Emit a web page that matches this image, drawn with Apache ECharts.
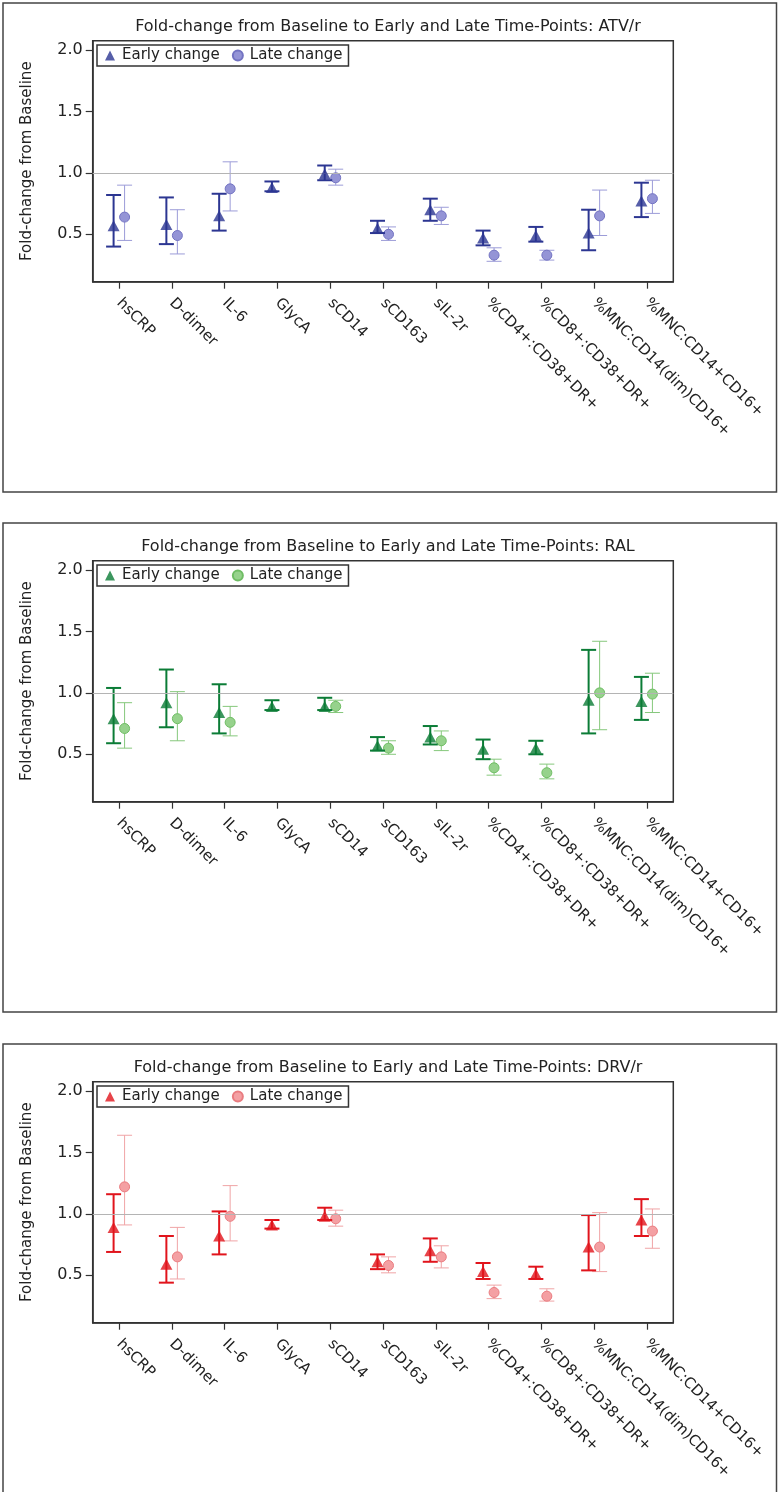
<!DOCTYPE html>
<html><head><meta charset="utf-8">
<script src="https://cdn.jsdelivr.net/npm/echarts@6/dist/echarts.min.js"></script>
<style>
html,body{margin:0;padding:0;background:#fff;overflow:hidden;width:780px;height:1492px;}
.p{position:absolute;left:0;width:780px;}
</style></head>
<body>
<div id="c1" class="p" style="top:0;height:520px"></div>
<div id="c2" class="p" style="top:520px;height:520px"></div>
<div id="c3" class="p" style="top:1041px;height:451px"></div>
<script>
const categories = ['hsCRP','D-dimer','IL-6','GlycA','sCD14','sCD163','sIL-2r','%CD4+:CD38+DR+','%CD8+:CD38+DR+','%MNC:CD14(dim)CD16+','%MNC:CD14+CD16+'];
const yTicks = [0.5, 1.0, 1.5, 2.0];

// ATV/r
const atvEarly   = [0.57, 0.58, 0.65, 0.88, 0.99, 0.55, 0.70, 0.47, 0.49, 0.51, 0.77];
const atvEarlyLo = [0.40, 0.42, 0.53, 0.85, 0.94, 0.51, 0.61, 0.41, 0.44, 0.37, 0.64];
const atvEarlyHi = [0.82, 0.80, 0.83, 0.93, 1.06, 0.61, 0.79, 0.53, 0.56, 0.70, 0.92];
const atvLate    = [0.64, 0.49, 0.87, null, 0.96, 0.50, 0.65, 0.33, 0.33, 0.65, 0.79];
const atvLateLo  = [0.45, 0.34, 0.69, null, 0.90, 0.45, 0.58, 0.28, 0.29, 0.49, 0.67];
const atvLateHi  = [0.90, 0.70, 1.09, null, 1.03, 0.56, 0.72, 0.39, 0.37, 0.86, 0.94];

// RAL
const ralEarly   = [0.79, 0.92, 0.84, 0.89, 0.89, 0.57, 0.64, 0.54, 0.55, 0.94, 0.93];
const ralEarlyLo = [0.59, 0.72, 0.67, 0.86, 0.86, 0.53, 0.58, 0.46, 0.50, 0.67, 0.78];
const ralEarlyHi = [1.04, 1.19, 1.07, 0.94, 0.96, 0.64, 0.73, 0.62, 0.61, 1.35, 1.13];
const ralLate    = [0.71, 0.79, 0.76, null, 0.89, 0.55, 0.61, 0.39, 0.35, 1.00, 0.99];
const ralLateLo  = [0.55, 0.61, 0.65, null, 0.84, 0.50, 0.53, 0.33, 0.30, 0.70, 0.84];
const ralLateHi  = [0.92, 1.01, 0.89, null, 0.94, 0.61, 0.69, 0.46, 0.42, 1.42, 1.16];

// DRV/r
const drvEarly   = [0.89, 0.59, 0.82, 0.91, 0.98, 0.61, 0.70, 0.53, 0.51, 0.73, 0.95];
const drvEarlyLo = [0.69, 0.44, 0.67, 0.88, 0.95, 0.55, 0.61, 0.47, 0.47, 0.54, 0.82];
const drvEarlyHi = [1.16, 0.82, 1.02, 0.95, 1.05, 0.67, 0.80, 0.60, 0.57, 0.99, 1.12];
const drvLate    = [1.22, 0.65, 0.98, null, 0.96, 0.58, 0.65, 0.36, 0.33, 0.73, 0.86];
const drvLateLo  = [0.91, 0.47, 0.78, null, 0.90, 0.52, 0.56, 0.31, 0.29, 0.53, 0.72];
const drvLateHi  = [1.64, 0.89, 1.23, null, 1.03, 0.65, 0.74, 0.42, 0.39, 1.01, 1.04];

const FONT = 'DejaVu Sans';
const TXT = '#222';

function errRender(offset, width, color) {
  return function (params, api) {
    const lo = api.value(1), hi = api.value(2);
    if (lo == null || isNaN(lo)) return null;
    const pLo = api.coord([api.value(0), lo]);
    const pHi = api.coord([api.value(0), hi]);
    const cx = pLo[0] + offset, hw = 7.5;
    const st = { stroke: color, lineWidth: width };
    return { type: 'group', children: [
      { type: 'line', shape: { x1: cx, y1: pHi[1], x2: cx, y2: pLo[1] }, style: st },
      { type: 'line', shape: { x1: cx - hw, y1: pHi[1], x2: cx + hw, y2: pHi[1] }, style: st },
      { type: 'line', shape: { x1: cx - hw, y1: pLo[1], x2: cx + hw, y2: pLo[1] }, style: st }
    ]};
  };
}

function buildOption(title, early, eLo, eHi, late, lLo, lHi, col) {
  const eData = categories.map((c, i) => [i, eLo[i], eHi[i]]);
  const lData = categories.map((c, i) => [i, lLo[i] == null ? NaN : lLo[i], lHi[i] == null ? NaN : lHi[i]]);
  return {
    animation: false,
    textStyle: { fontFamily: FONT },
    graphic: [{ type: 'rect', shape: { x: 3, y: 3, width: 773.5, height: 489 }, style: { fill: 'none', stroke: '#444', lineWidth: 1.5 }, silent: true }],
    title: { text: title, left: 383, top: 14, textAlign: 'center',
      textStyle: { fontFamily: FONT, fontSize: 16, fontWeight: 'normal', color: TXT } },
    legend: {
      left: 97, top: 45, orient: 'horizontal',
      data: ['Early change', 'Late change'],
      borderColor: '#333', borderWidth: 1.5, padding: [3, 6, 3, 8], itemGap: 12,
      itemWidth: 10, itemHeight: 10,
      textStyle: { fontFamily: FONT, fontSize: 15, color: TXT, padding: [0, 0, 0, 2] }
    },
    grid: { left: 92.7, right: 106.7, top: 40.7, height: 241, show: true, borderColor: '#333', borderWidth: 1.5, backgroundColor: 'transparent' },
    xAxis: {
      type: 'category', data: categories, boundaryGap: true,
      axisLine: { show: true, lineStyle: { color: '#333', width: 1.5 } },
      axisTick: { show: true, alignWithLabel: true, length: 7, lineStyle: { color: '#333', width: 1.2 } },
      axisLabel: { rotate: -45, interval: 0, margin: 19, padding: [20, 0, 0, 0], fontFamily: FONT, fontSize: 15, color: TXT },
      splitLine: { show: false }
    },
    yAxis: {
      type: 'value', min: 0.114, max: 2.076,
      name: 'Fold-change from Baseline', nameLocation: 'middle', nameGap: 58, nameRotate: 90,
      nameTextStyle: { fontFamily: FONT, fontSize: 15, color: TXT },
      axisLine: { show: true, lineStyle: { color: '#333', width: 1.5 } },
      axisTick: { show: true, length: 7, customValues: yTicks, lineStyle: { color: '#333', width: 1.2 } },
      axisLabel: { customValues: yTicks, formatter: v => v.toFixed(1), margin: 10, fontFamily: FONT, fontSize: 16, color: TXT },
      splitLine: { show: false }
    },
    series: [
      { type: 'custom', name: 'lateErr', renderItem: errRender(5.5, 1, col.lateBar), data: lData, encode: { x: 0, y: [1, 2] }, z: 2, silent: true },
      { type: 'scatter', name: 'Late change', data: late, symbol: 'circle', symbolSize: 10, symbolOffset: [5.5, 0],
        itemStyle: { color: col.lateFill, borderColor: col.lateBorder, borderWidth: 1, opacity: 1 }, z: 3,
        markLine: { silent: true, symbol: 'none', label: { show: false }, data: [{ yAxis: 1.0 }],
          lineStyle: { color: '#b4b4b4', width: 1, type: 'solid' }, emphasis: { disabled: true } } },
      { type: 'custom', name: 'earlyErr', renderItem: errRender(-5.5, 2, col.early), data: eData, encode: { x: 0, y: [1, 2] }, z: 4, silent: true },
      { type: 'scatter', name: 'Early change', data: early, symbol: 'triangle', symbolSize: [12, 11], symbolOffset: [-5.5, 0],
        itemStyle: { color: col.early }, z: 5 }
    ]
  };
}

const blue  = { early: '#2c3692', lateFill: '#9494d6', lateBorder: '#7373c2', lateBar: '#9c9cd8' };
const green = { early: '#0b7c36', lateFill: '#96d28c', lateBorder: '#6fbd64', lateBar: '#86c87c' };
const red   = { early: '#e1141c', lateFill: '#f4a0a3', lateBorder: '#e97c80', lateBar: '#f0a4a6' };

const specs = [
  ['c1', 'Fold-change from Baseline to Early and Late Time-Points: ATV/r', atvEarly, atvEarlyLo, atvEarlyHi, atvLate, atvLateLo, atvLateHi, blue],
  ['c2', 'Fold-change from Baseline to Early and Late Time-Points: RAL', ralEarly, ralEarlyLo, ralEarlyHi, ralLate, ralLateLo, ralLateHi, green],
  ['c3', 'Fold-change from Baseline to Early and Late Time-Points: DRV/r', drvEarly, drvEarlyLo, drvEarlyHi, drvLate, drvLateLo, drvLateHi, red]
];
specs.forEach(s => {
  const chart = echarts.init(document.getElementById(s[0]), null, { renderer: 'canvas' });
  chart.setOption(buildOption(s[1], s[2], s[3], s[4], s[5], s[6], s[7], s[8]));
});
</script>
</body></html>
